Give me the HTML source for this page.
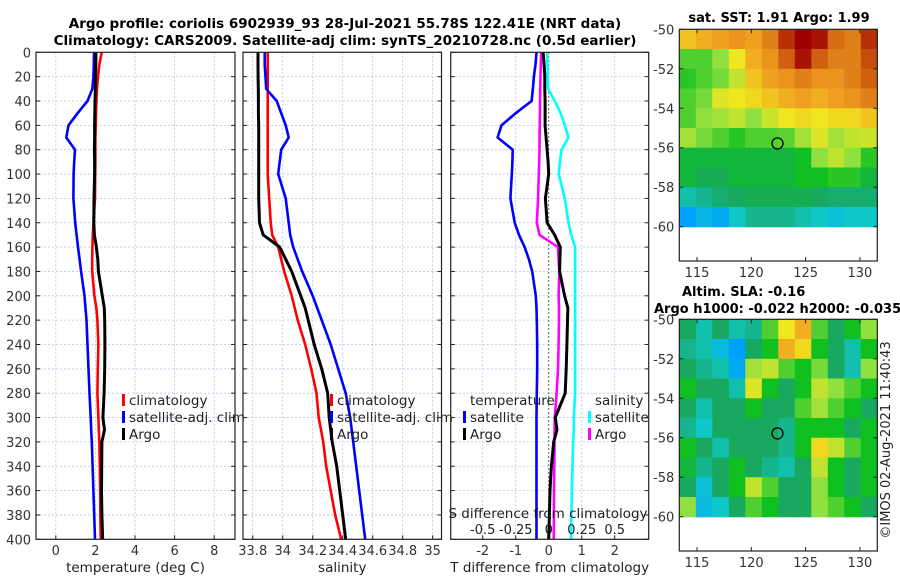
<!DOCTYPE html>
<html><head><meta charset="utf-8"><style>
body{margin:0;background:#fff;}
svg{display:block;font-family:"DejaVu Sans","Liberation Sans",sans-serif;}
</style></head><body>
<svg id="fig" width="900" height="580" viewBox="0 0 900 580" xmlns="http://www.w3.org/2000/svg">
<text x="345" y="28" text-anchor="middle" font-size="13.5" font-weight="bold">Argo profile: coriolis 6902939_93 28-Jul-2021 55.78S 122.41E (NRT data)</text>
<text x="345" y="45" text-anchor="middle" font-size="13.5" font-weight="bold">Climatology: CARS2009. Satellite-adj clim: synTS_20210728.nc (0.5d earlier)</text>
<g id="plots"></g>
</svg>
<script>
// ---- profile data ----
const depths = [0,10,20,30,40,50,60,70,80,90,100,120,140,150,160,170,180,200,210,220,240,260,280,300,310,320,340,360,380,400];
const climT = [2.32,2.2,2.13,2.08,2.05,2.03,2.02,2.0,2.0,2.0,1.99,1.98,1.9,1.87,1.85,1.84,1.84,1.95,2.05,2.1,2.15,2.12,2.1,2.15,2.17,2.2,2.22,2.24,2.25,2.27];
const satT = [1.93,1.92,1.9,1.85,1.6,1.1,0.64,0.53,0.97,0.93,0.9,0.89,0.98,1.05,1.12,1.2,1.28,1.45,1.5,1.55,1.6,1.65,1.7,1.76,1.79,1.82,1.86,1.9,1.94,1.98];
const argoT = [2.03,2.02,2.01,2.0,1.98,1.97,1.96,1.96,1.95,1.96,1.96,1.93,1.92,1.95,2.05,2.12,2.15,2.35,2.45,2.47,2.48,2.47,2.44,2.38,2.46,2.33,2.32,2.31,2.33,2.37];
const climS = [33.9,33.9,33.9,33.9,33.9,33.9,33.9,33.9,33.9,33.9,33.9,33.91,33.92,33.93,33.97,33.99,34.01,34.06,34.08,34.1,34.15,34.19,34.225,34.24,34.255,34.27,34.29,34.32,34.35,34.39];
const satS = [33.88,33.88,33.885,33.89,33.96,33.99,34.02,34.04,33.99,33.98,33.97,34.02,34.04,34.05,34.07,34.1,34.13,34.2,34.23,34.26,34.32,34.37,34.42,34.45,34.46,34.47,34.49,34.51,34.53,34.55];
const argoS = [33.835,33.835,33.836,33.837,33.838,33.838,33.84,33.84,33.84,33.84,33.84,33.84,33.845,33.87,33.98,34.02,34.06,34.12,34.15,34.17,34.21,34.26,34.3,34.31,34.32,34.33,34.36,34.38,34.4,34.42];
const satTdiff = [-0.37,-0.4,-0.45,-0.48,-0.52,-1.0,-1.43,-1.55,-1.09,-1.1,-1.12,-1.16,-1.03,-0.9,-0.73,-0.6,-0.5,-0.39,-0.37,-0.36,-0.35,-0.35,-0.36,-0.37,-0.37,-0.37,-0.37,-0.37,-0.37,-0.37];
const argoTdiff = [-0.17,-0.14,-0.12,-0.12,-0.11,-0.11,-0.11,-0.08,-0.05,-0.02,0.0,-0.1,-0.05,0.18,0.35,0.34,0.33,0.48,0.58,0.57,0.55,0.53,0.5,0.2,0.25,0.15,0.08,0.04,0.02,0.0];
const satSdiff = [-0.013,-0.01,-0.007,-0.005,0.046,0.09,0.122,0.15,0.097,0.085,0.076,0.122,0.15,0.17,0.2,0.2,0.2,0.2,0.2,0.2,0.2,0.2,0.2,0.19,0.19,0.185,0.18,0.175,0.172,0.17];
const argoSdiff = [-0.056,-0.06,-0.062,-0.064,-0.066,-0.067,-0.068,-0.069,-0.07,-0.072,-0.075,-0.08,-0.09,-0.07,0.07,0.075,0.08,0.075,0.078,0.078,0.075,0.07,0.06,0.046,0.045,0.044,0.042,0.04,0.039,0.038];
const depthTicks = [0,20,40,60,80,100,120,140,160,180,200,220,240,260,280,300,320,340,360,380,400];
const tempTicks = [0,2,4,6,8];
const salTicks = [33.8,34,34.2,34.4,34.6,34.8,35];
const tdiffTicks = [-2,-1,0,1,2];
const sdiffTicks = [-0.5,-0.25,0,0.25,0.5];
const sdiffTickLabels = ["-0.5","-0.25","0","0.25","0.5"];
// ---- map data (rows: lat -50 -> -60, cols: lon west -> east), normalized colour index ----
const sstGrid = [
[.75,.78,.8,.82,.8,.85,.95,1,.98,.88,.85,.95],
[.55,.55,.6,.7,.78,.82,.9,.98,.9,.85,.85,.92],
[.52,.55,.58,.65,.75,.8,.82,.85,.82,.82,.85,.9],
[.55,.58,.68,.7,.72,.75,.78,.8,.78,.8,.82,.85],
[.55,.6,.62,.65,.6,.66,.7,.72,.7,.72,.72,.75],
[.62,.58,.55,.52,.55,.55,.56,.62,.68,.62,.65,.66],
[.48,.48,.48,.48,.48,.48,.48,.5,.6,.65,.6,.52],
[.48,.46,.46,.48,.48,.48,.48,.5,.5,.52,.52,.48],
[.4,.42,.44,.45,.46,.46,.46,.46,.45,.44,.44,.44],
[.3,.34,.32,.38,.42,.42,.42,.4,.38,.36,.38,.38]];
const slaGrid = [
[.45,.4,.45,.4,.42,.55,.7,.78,.55,.45,.5,.6],
[.42,.4,.35,.3,.45,.5,.78,.72,.5,.45,.4,.5],
[.45,.42,.4,.32,.62,.65,.55,.5,.58,.45,.4,.6],
[.5,.45,.45,.4,.68,.5,.45,.5,.65,.6,.55,.5],
[.45,.4,.45,.45,.5,.45,.45,.55,.62,.55,.5,.45],
[.42,.38,.45,.45,.45,.45,.42,.5,.5,.5,.45,.5],
[.5,.45,.4,.45,.45,.45,.42,.5,.72,.65,.55,.5],
[.48,.42,.45,.5,.45,.42,.4,.45,.65,.5,.45,.5],
[.45,.36,.45,.5,.65,.55,.45,.45,.6,.5,.45,.5],
[.6,.35,.38,.45,.55,.5,.45,.45,.6,.55,.5,.45]];
const mapLonTicks = [115,120,125,130];
const mapLatTicks = [-50,-52,-54,-56,-58,-60];
const argoLon = 122.41, argoLat = -55.78;

const NS = "http://www.w3.org/2000/svg";
const root = document.getElementById('plots');
function mk(tag, attrs, parent, text){
  const e = document.createElementNS(NS, tag);
  for (const k in attrs) e.setAttribute(k, attrs[k]);
  if (text !== undefined) e.textContent = text;
  (parent||root).appendChild(e); return e;
}
const Y0 = 52.3, Y1 = 539.3;
const yD = d => Y0 + d/400*(Y1-Y0);

function panel(name, x0, x1, xmin, xmax, xticks, xlabels, xtitle, showY){
  const g = mk('g', {});
  
  
  const xs = v => x0 + (v-xmin)/(xmax-xmin)*(x1-x0);
  // grid
  depthTicks.forEach(d => {
    const l = mk('line', {x1:x0, x2:x1, y1:yD(d), y2:yD(d), stroke:'#b8c4e8', 'stroke-width':0.8, 'stroke-dasharray':'2,2'}, g);
    
    
    mk('line', {x1:x0, x2:x0+4, y1:yD(d), y2:yD(d), stroke:'#222'}, g);
    mk('line', {x1:x1-4, x2:x1, y1:yD(d), y2:yD(d), stroke:'#222'}, g);
    if (showY){
      const t = mk('text', {x:x0-5, y:yD(d)+5, 'text-anchor':'end', 'font-size':13, fill:'#333'}, g, String(d));
      
      
    }
  });
  xticks.forEach((v,i) => {
    const l = mk('line', {x1:xs(v), x2:xs(v), y1:Y0, y2:Y1, stroke:'#b8c4e8', 'stroke-width':0.8, 'stroke-dasharray':'2,2'}, g);
    
    
    mk('line', {x1:xs(v), x2:xs(v), y1:Y1-4, y2:Y1, stroke:'#222'}, g);
    const t = mk('text', {x:xs(v), y:555, 'text-anchor':'middle', 'font-size':13, fill:'#333'}, g, xlabels[i]);
    
    
  });
  const tt = mk('text', {x:(x0+x1)/2, y:572, 'text-anchor':'middle', 'font-size':13.5, fill:'#222'}, g, xtitle);
  
  
  return {g, xs, x0, x1};
}
function box(p){
  const r = mk('rect', {x:p.x0, y:Y0, width:p.x1-p.x0, height:Y1-Y0, fill:'none', stroke:'#222', 'stroke-width':1.2}, p.g);
  
  
}
function line(p, vals, color, name, w){
  const pts = vals.map((v,i) => p.xs(v).toFixed(1)+','+yD(depths[i]).toFixed(1)).join(' ');
  const l = mk('polyline', {points:pts, fill:'none', stroke:color, 'stroke-width':w||2.6, 'stroke-linejoin':'round'}, p.g);
  
  
}
function legendEntry(p, x, y, color, label){
  const g = mk('g', {}, p.g);
  
  
  mk('rect', {x:x, y:y-11, width:3, height:12, fill:color}, g);
  mk('text', {x:x+7, y:y, 'font-size':13.5, fill:'#222'}, g, label);
}

// Panel 1 temperature
const p1 = panel('temperature-panel', 36, 235, -1, 9.05, tempTicks, tempTicks.map(String), 'temperature (deg C)', true);
line(p1, climT, '#ff0000', 'climatology-temperature-line');
line(p1, satT, '#0000ff', 'satellite-temperature-line');
line(p1, argoT, '#000000', 'argo-temperature-line', 3);
box(p1);
legendEntry(p1, 122, 405, '#ff0000', 'climatology');
legendEntry(p1, 122, 422, '#0000ff', 'satellite-adj. clim');
legendEntry(p1, 122, 439, '#000000', 'Argo');

// Panel 2 salinity
const p2 = panel('salinity-panel', 243, 441.5, 33.735, 35.059, salTicks, salTicks.map(String), 'salinity', false);
line(p2, climS, '#ff0000', 'climatology-salinity-line');
line(p2, satS, '#0000ff', 'satellite-salinity-line');
line(p2, argoS, '#000000', 'argo-salinity-line', 3);
box(p2);
legendEntry(p2, 330, 405, '#ff0000', 'climatology');
legendEntry(p2, 330, 422, '#0000ff', 'satellite-adj. clim');
legendEntry(p2, 330, 439, '#000000', 'Argo');

// Panel 3 differences (T axis; S axis is T/4)
const p3 = panel('difference-panel', 450.7, 648.7, -2.97, 3.03, tdiffTicks, tdiffTicks.map(String), 'T difference from climatology', false);
const zl = mk('line', {x1:p3.xs(0), x2:p3.xs(0), y1:Y0, y2:Y1, stroke:'#445522', 'stroke-width':1, 'stroke-dasharray':'1.5,2.5'}, p3.g);


line(p3, satSdiff.map(v => v*4), '#00ffff', 'satellite-salinity-diff-line');
line(p3, satTdiff, '#0000ff', 'satellite-temperature-diff-line');
line(p3, argoSdiff.map(v => v*4), '#ff00ff', 'argo-salinity-diff-line');
line(p3, argoTdiff, '#000000', 'argo-temperature-diff-line', 3);
box(p3);
sdiffTicks.forEach((v,i) => {
  const t = mk('text', {x:p3.xs(v*4), y:534, 'text-anchor':'middle', 'font-size':13, fill:'#222'}, p3.g, sdiffTickLabels[i]);
  
  
});
const st = mk('text', {x:548, y:518, 'text-anchor':'middle', 'font-size':13.5, fill:'#222'}, p3.g, 'S difference from climatology');


const lt1 = mk('text', {x:470, y:405, 'font-size':13.5, fill:'#222'}, p3.g, 'temperature');


legendEntry(p3, 463, 422, '#0000ff', 'satellite');
legendEntry(p3, 463, 439, '#000000', 'Argo');
const lt2 = mk('text', {x:595, y:405, 'font-size':13.5, fill:'#222'}, p3.g, 'salinity');


legendEntry(p3, 588, 422, '#00ffff', 'satellite');
legendEntry(p3, 588, 439, '#ff00ff', 'Argo');

// ---- maps ----
const cstops = [[0,[0,0,170]],[0.3,[0,160,255]],[0.38,[16,200,200]],[0.45,[24,168,96]],[0.5,[16,192,32]],[0.6,[144,224,64]],[0.7,[240,230,32]],[0.8,[240,160,32]],[0.9,[208,96,16]],[1,[160,0,0]]];
function cmap(v){
  for (let i=1;i<cstops.length;i++){
    if (v <= cstops[i][0]){
      const a=cstops[i-1], b=cstops[i], f=(v-a[0])/(b[0]-a[0]);
      const c=a[1].map((x,k)=>Math.round(x+(b[1][k]-x)*f));
      return 'rgb('+c.join(',')+')';
    }
  }
  return 'rgb(160,0,0)';
}
function mapPanel(name, top, grid, title){
  const g = mk('g', {});
  
  
  const L0=679.3, L1=877.3, lonMin=113.37, lonMax=131.6;
  const xl = lon => L0 + (lon-lonMin)/(lonMax-lonMin)*(L1-L0);
  const yl = lat => top + (-50-lat)*19.74;
  const bottom = top + 231.7;
  const rows = grid.length, cols = grid[0].length;
  const dlon = (lonMax-lonMin)/cols, dlat = 10/rows;
  grid.forEach((row, r) => row.forEach((v, c) => {
    const x = xl(lonMin + c*dlon), y = yl(-50 - r*dlat);
    const cell = mk('rect', {x:x.toFixed(1), y:y.toFixed(1), width:(xl(lonMin+(c+1)*dlon)-x+0.6).toFixed(1), height:(yl(-50-(r+1)*dlat)-y+0.6).toFixed(1), fill:cmap(v)}, g);
    
    
  }));
  const m = mk('circle', {cx:xl(argoLon), cy:yl(argoLat), r:5.5, fill:'none', stroke:'#000', 'stroke-width':1.3}, g);
  
  
  const fr = mk('rect', {x:L0, y:top, width:L1-L0, height:bottom-top, fill:'none', stroke:'#222', 'stroke-width':1.2}, g);
  
  
  mapLatTicks.forEach(lat => {
    mk('line', {x1:L1-4, x2:L1, y1:yl(lat), y2:yl(lat), stroke:'#222'}, g);
    mk('line', {x1:L0, x2:L0+4, y1:yl(lat), y2:yl(lat), stroke:'#222'}, g);
    const t = mk('text', {x:L0-5, y:yl(lat)+5, 'text-anchor':'end', 'font-size':13, fill:'#333'}, g, String(lat));
    
    
  });
  mapLonTicks.forEach(lon => {
    mk('line', {x1:xl(lon), x2:xl(lon), y1:top, y2:top+4, stroke:'#222'}, g);
    mk('line', {x1:xl(lon), x2:xl(lon), y1:bottom-4, y2:bottom, stroke:'#222'}, g);
    const t = mk('text', {x:xl(lon), y:bottom+16, 'text-anchor':'middle', 'font-size':13, fill:'#333'}, g, String(lon));
    
    
  });
  return g;
}
const m1 = mapPanel('sst-map', 29.3, sstGrid);
const m2 = mapPanel('sla-map', 319.3, slaGrid);
const t1 = mk('text', {x:779, y:22, 'text-anchor':'middle', 'font-size':13, 'font-weight':'bold'}, root, 'sat. SST: 1.91 Argo: 1.99');


const t2 = mk('text', {x:682, y:296, 'font-size':13, 'font-weight':'bold'}, root, 'Altim. SLA: -0.16');


const t3 = mk('text', {x:654, y:313, 'font-size':13, 'font-weight':'bold'}, root, 'Argo h1000: -0.022 h2000: -0.035');


const t4 = mk('text', {x:0, y:0, 'text-anchor':'middle', 'font-size':13, fill:'#222', transform:'translate(890,440) rotate(-90)'}, root, '©IMOS 02-Aug-2021 11:40:43');


</script>
</body></html>
